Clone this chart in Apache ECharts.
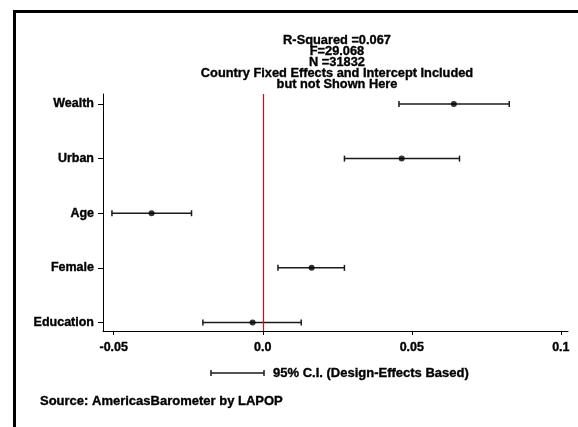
<!DOCTYPE html>
<html>
<head>
<meta charset="utf-8">
<script src="https://cdn.jsdelivr.net/npm/echarts@6/dist/echarts.min.js"></script>
<style>
html,body{margin:0;padding:0;background:#fff;}
#chart{width:578px;height:427px;}
</style>
</head>
<body>
<div id="chart"></div>
<script>
// ---- data ----
const categories = ['Education', 'Female', 'Age', 'Urban', 'Wealth'];
const coef  = [-0.0034, 0.0164, -0.0373, 0.0466, 0.0641];
const lower = [-0.0201, 0.0051, -0.0506, 0.0274, 0.0457];
const upper = [0.0129, 0.0274, -0.0239, 0.0660, 0.0827];
const xTicks = [-0.05, 0, 0.05, 0.1];
const xTickLabels = ['-0.05', '0.0', '0.05', '0.1'];
const titleLines = ['R-Squared =0.067', 'F=29.068', 'N =31832',
  'Country Fixed Effects and Intercept Included', 'but not Shown Here'];
const legendText = '95% C.I. (Design-Effects Based)';
const sourceText = 'Source: AmericasBarometer by LAPOP';
const refLine = 0;

const FONT = '"Liberation Sans", Arial, sans-serif';
const HEAVY = {fontFamily: FONT, fontWeight: 'bold', color: '#000', textBorderColor: '#000', textBorderWidth: 0.35};
const yPos = categories.map((c, i) => i + 1);

const ciData = categories.map((c, i) => [lower[i], upper[i], yPos[i]]);
const ptData = categories.map((c, i) => [coef[i], yPos[i]]);

const chart = echarts.init(document.getElementById('chart'));
chart.setOption({
  animation: false,
  backgroundColor: '#fff',
  title: {
    text: titleLines.join('\n'),
    left: 337, top: 34.5, textAlign: 'center', padding: 0,
    textStyle: Object.assign({fontSize: 12.8, lineHeight: 11}, HEAVY)
  },
  grid: {left: 103, right: 10, top: 94, bottom: 96},
  xAxis: {
    type: 'value', min: -0.0536, max: 0.1024,
    axisLine: {show: true, onZero: false, lineStyle: {color: '#000', width: 1}},
    splitLine: {show: false},
    axisTick: {show: true, customValues: xTicks, length: 4, lineStyle: {color: '#000'}},
    axisLabel: Object.assign({
      customValues: xTicks, margin: 10,
      formatter: v => { const i = xTicks.findIndex(t => Math.abs(t - v) < 1e-9); return i >= 0 ? xTickLabels[i] : ''; },
      fontSize: 12.5
    }, HEAVY)
  },
  yAxis: {
    type: 'value', min: 0.844, max: 5.183,
    axisLine: {show: true, onZero: false, lineStyle: {color: '#000', width: 1}},
    splitLine: {show: false},
    axisTick: {show: true, customValues: yPos, length: 5, lineStyle: {color: '#000'}},
    axisLabel: Object.assign({
      customValues: yPos, margin: 9,
      formatter: v => categories[Math.round(v) - 1] || '',
      fontSize: 12.5
    }, HEAVY)
  },
  series: [
    {
      type: 'custom',
      data: ciData,
      encode: {x: [0, 1], y: 2},
      renderItem: function (params, api) {
        const a = api.coord([api.value(0), api.value(2)]);
        const b = api.coord([api.value(1), api.value(2)]);
        const h = 3;
        const st = {stroke: '#1a1a1a', lineWidth: 1.5};
        return {
          type: 'group',
          children: [
            {type: 'line', shape: {x1: a[0], y1: a[1], x2: b[0], y2: b[1]}, style: st},
            {type: 'line', shape: {x1: a[0], y1: a[1] - h, x2: a[0], y2: a[1] + h}, style: st},
            {type: 'line', shape: {x1: b[0], y1: b[1] - h, x2: b[0], y2: b[1] + h}, style: st}
          ]
        };
      },
      z: 3
    },
    {
      type: 'scatter',
      data: ptData,
      symbol: 'circle', symbolSize: 6,
      itemStyle: {color: '#000'},
      z: 4,
      markLine: {
        silent: true, symbol: 'none', label: {show: false},
        lineStyle: {color: '#c8101e', width: 1.2, type: 'solid', opacity: 1},
        emphasis: {disabled: true},
        data: [{xAxis: refLine}]
      }
    }
  ],
  graphic: [
    {type: 'rect', shape: {x: 14.5, y: 11.5, width: 700, height: 600},
      style: {fill: 'none', stroke: '#000', lineWidth: 3}, silent: true},
    {type: 'line', shape: {x1: 211, y1: 373, x2: 264, y2: 373}, style: {stroke: '#1a1a1a', lineWidth: 1.5}},
    {type: 'line', shape: {x1: 211, y1: 370, x2: 211, y2: 376}, style: {stroke: '#1a1a1a', lineWidth: 1.5}},
    {type: 'line', shape: {x1: 264, y1: 370, x2: 264, y2: 376}, style: {stroke: '#1a1a1a', lineWidth: 1.5}},
    {type: 'text', x: 273, y: 373, style: {text: legendText, font: 'bold 13px ' + FONT, fill: '#000', stroke: '#000', lineWidth: 0.35, verticalAlign: 'middle'}},
    {type: 'text', x: 40, y: 401, style: {text: sourceText, font: 'bold 13px ' + FONT, fill: '#000', stroke: '#000', lineWidth: 0.35, verticalAlign: 'middle'}}
  ]
});
</script>
</body>
</html>
